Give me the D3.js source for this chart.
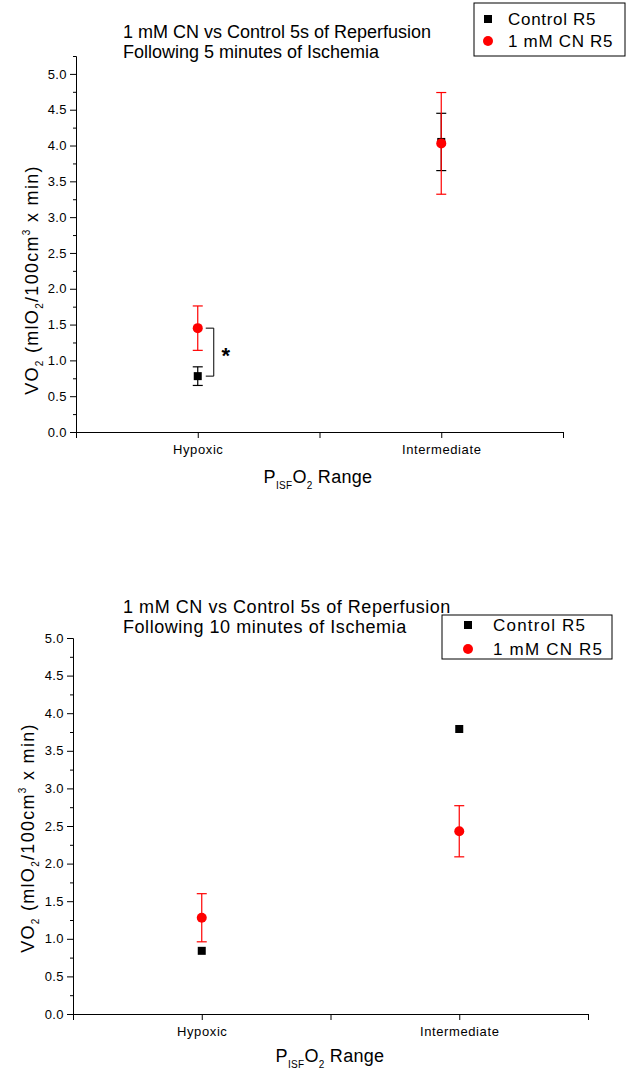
<!DOCTYPE html>
<html>
<head>
<meta charset="utf-8">
<script src="https://cdn.jsdelivr.net/npm/d3@7"></script>
<style>
  html, body { margin: 0; padding: 0; background: #fff; }
  svg { display: block; }
  text { font-family: "Liberation Sans", Arial, sans-serif; fill: #000; }
</style>
</head>
<body>
<svg id="chart" width="632" height="1069"></svg>
<script>
// ---- DATA ----
const categories = ["Hypoxic", "Intermediate"];
const categoryPositions = [1, 2];
const xTickValues = [0.5, 1, 1.5, 2, 2.5];
const yMajorTicks = [0, 0.5, 1.0, 1.5, 2.0, 2.5, 3.0, 3.5, 4.0, 4.5, 5.0];
const seriesNames = ["Control R5", "1 mM CN R5"];

// Chart 1: 5 minutes of ischemia
const control5Mean = [0.78, 4.05];
const control5Err = [0.13, 0.40];
const cn5Mean = [1.45, 4.03];
const cn5Err = [0.31, 0.71];

// Chart 2: 10 minutes of ischemia
const control10Mean = [0.84, 3.79];
const control10Err = [null, null];
const cn10Mean = [1.28, 2.43];
const cn10Err = [0.32, 0.34];

const titles5 = ["1 mM CN vs Control 5s of Reperfusion", "Following 5 minutes of Ischemia"];
const titles10 = ["1 mM CN vs Control 5s of Reperfusion", "Following 10 minutes of Ischemia"];

// ---- DRAW ----
const svg = d3.select("#chart");
const RED = "#ff0000";
const FONT = "Liberation Sans, Arial, sans-serif";

function drawChart(cfg) {
  const g = svg.append("g");
  const x = d3.scaleLinear().domain([0.5, 2.5]).range([cfg.left, cfg.right]);
  const y = d3.scaleLinear().domain([0, cfg.yMax]).range([cfg.bottom, cfg.top]);

  // minor y ticks
  const minor = d3.range(0.25, cfg.yMax + 0.001, 0.5);
  g.append("g").attr("transform", `translate(${cfg.left},0)`)
    .call(d3.axisLeft(y).tickValues(minor).tickSize(3).tickSizeOuter(0).tickFormat(""))
    .call(a => a.selectAll("line,path").attr("stroke", "#000"));
  // major y ticks
  const ya = g.append("g").attr("transform", `translate(${cfg.left},0)`)
    .call(d3.axisLeft(y).tickValues(yMajorTicks).tickSize(6).tickSizeOuter(0).tickPadding(3)
      .tickFormat(d3.format(".1f")));
  ya.selectAll("line,path").attr("stroke", "#000");
  ya.selectAll("text").attr("font-size", 13).attr("letter-spacing", 0.4)
    .attr("font-family", FONT).attr("fill", "#000");

  // x axis
  const xa = g.append("g").attr("transform", `translate(0,${cfg.bottom})`)
    .call(d3.axisBottom(x).tickValues(xTickValues).tickSize(6).tickSizeOuter(0).tickPadding(7)
      .tickFormat(d => { const i = categoryPositions.indexOf(d); return i >= 0 ? categories[i] : ""; }));
  xa.selectAll("line,path").attr("stroke", "#000");
  xa.selectAll("text").attr("font-size", 13).attr("letter-spacing", 0.6)
    .attr("font-family", FONT).attr("fill", "#000");

  // titles
  cfg.titles.forEach((t, i) => {
    g.append("text").attr("x", cfg.titleX).attr("y", cfg.titleY + i * 20.5)
      .attr("font-size", 18).attr("letter-spacing", cfg.titleSpacing).text(t);
  });

  // y axis title
  const yt = g.append("text")
    .attr("transform", `translate(${cfg.yTitleX},${cfg.yTitleY}) rotate(-90)`)
    .attr("text-anchor", "middle").attr("font-size", 18).attr("letter-spacing", 1.3);
  yt.append("tspan").text("VO");
  yt.append("tspan").attr("font-size", 10).attr("dy", 5).text("2");
  yt.append("tspan").attr("dy", -5).text(" (mlO");
  yt.append("tspan").attr("font-size", 10).attr("dy", 5).text("2");
  yt.append("tspan").attr("dy", -5).text("/100cm");
  yt.append("tspan").attr("font-size", 10).attr("dy", -8).text("3");
  yt.append("tspan").attr("dy", 8).text(" x min)");

  // x axis title
  const xt = g.append("text").attr("x", cfg.xTitleX).attr("y", cfg.xTitleY)
    .attr("text-anchor", "middle").attr("font-size", 18).attr("letter-spacing", 0.3);
  xt.append("tspan").text("P");
  xt.append("tspan").attr("font-size", 10).attr("dy", 6).text("ISF");
  xt.append("tspan").attr("dy", -6).text("O");
  xt.append("tspan").attr("font-size", 10).attr("dy", 6).text("2");
  xt.append("tspan").attr("dy", -6).text(" Range");

  // error bars
  function errBars(means, errs, color) {
    means.forEach((m, i) => {
      const e = errs[i];
      if (e == null) return;
      const cx = x(categoryPositions[i]);
      const eg = g.append("g").attr("stroke", color).attr("stroke-width", 1.2);
      eg.append("line").attr("x1", cx).attr("x2", cx).attr("y1", y(m - e)).attr("y2", y(m + e));
      eg.append("line").attr("x1", cx - 5).attr("x2", cx + 5).attr("y1", y(m - e)).attr("y2", y(m - e));
      eg.append("line").attr("x1", cx - 5).attr("x2", cx + 5).attr("y1", y(m + e)).attr("y2", y(m + e));
    });
  }
  errBars(cfg.ctrlMean, cfg.ctrlErr, "#000");
  errBars(cfg.cnMean, cfg.cnErr, RED);

  // markers
  g.selectAll(null).data(cfg.ctrlMean).enter().append("rect")
    .attr("x", (d, i) => x(categoryPositions[i]) - 4)
    .attr("y", d => y(d) - 4)
    .attr("width", 8).attr("height", 8).attr("fill", "#000");
  g.selectAll(null).data(cfg.cnMean).enter().append("circle")
    .attr("cx", (d, i) => x(categoryPositions[i]))
    .attr("cy", d => y(d)).attr("r", 5).attr("fill", RED);

  // significance bracket
  if (cfg.bracket) {
    const bx = x(categoryPositions[0]) + 16;
    const y1 = y(cfg.cnMean[0]), y2 = y(cfg.ctrlMean[0]);
    g.append("path")
      .attr("d", `M${bx - 8},${y1}H${bx}V${y2}H${bx - 8}`)
      .attr("fill", "none").attr("stroke", "#000").attr("stroke-width", 1);
    g.append("text").attr("x", bx + 12).attr("y", (y1 + y2) / 2 + 11)
      .attr("text-anchor", "middle").attr("font-size", 22).attr("font-weight", "bold").text("*");
  }

  // legend
  const L = cfg.legend;
  g.append("rect").attr("x", L.x).attr("y", L.y).attr("width", L.w).attr("height", L.h)
    .attr("fill", "#fff").attr("stroke", "#000").attr("stroke-width", 1);
  seriesNames.forEach((s, i) => {
    const ry = L.y + L.row0 + i * L.dy;
    if (i === 0) {
      g.append("rect").attr("x", L.x + L.mx - 4).attr("y", ry - 4).attr("width", 8).attr("height", 8).attr("fill", "#000");
    } else {
      g.append("circle").attr("cx", L.x + L.mx).attr("cy", ry).attr("r", 5).attr("fill", RED);
    }
    g.append("text").attr("x", L.x + L.tx).attr("y", ry + 6).attr("font-size", 17)
      .attr("letter-spacing", L.ls).text(s);
  });
}

drawChart({
  left: 76, right: 563, top: 56, bottom: 432, yMax: 5.25,
  ctrlMean: control5Mean, ctrlErr: control5Err, cnMean: cn5Mean, cnErr: cn5Err,
  titles: titles5, titleX: 123, titleY: 37.5, titleSpacing: 0,
  yTitleX: 38, yTitleY: 280, xTitleX: 318, xTitleY: 483,
  bracket: true,
  legend: { x: 474, y: 3, w: 151, h: 53, mx: 14, tx: 34, row0: 16, dy: 22, ls: 0.7 }
});

drawChart({
  left: 73, right: 588, top: 638, bottom: 1014, yMax: 5.0,
  ctrlMean: control10Mean, ctrlErr: control10Err, cnMean: cn10Mean, cnErr: cn10Err,
  titles: titles10, titleX: 123, titleY: 612.5, titleSpacing: 0.55,
  yTitleX: 34, yTitleY: 838, xTitleX: 330, xTitleY: 1062,
  bracket: false,
  legend: { x: 442, y: 615, w: 170, h: 44, mx: 26, tx: 51, row0: 10, dy: 24, ls: 1.2 }
});
</script>
</body>
</html>
